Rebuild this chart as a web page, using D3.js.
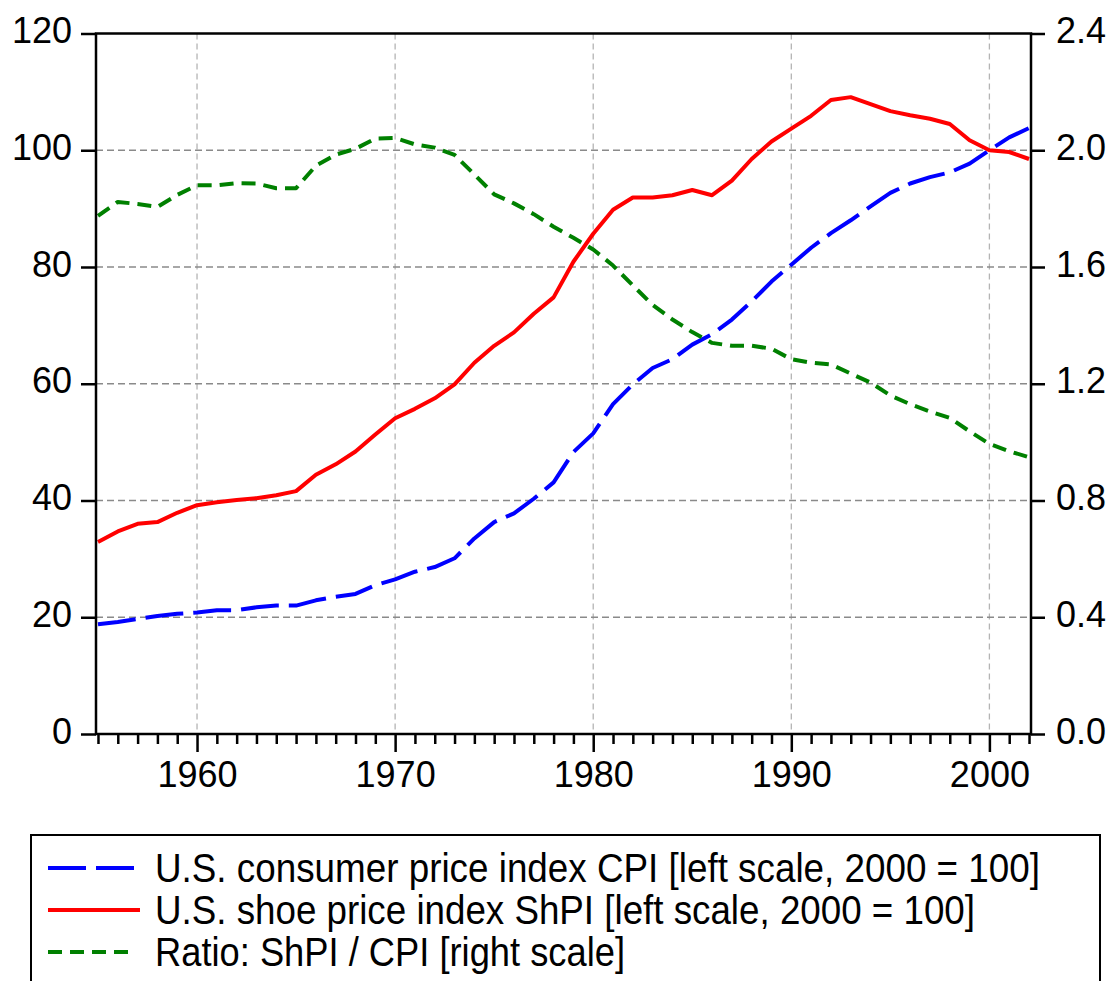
<!DOCTYPE html>
<html>
<head>
<meta charset="utf-8">
<script src="https://cdn.jsdelivr.net/npm/d3@7"></script>
<style>
  body { margin: 0; background: #fff; }
  svg { display: block; font-family: "Liberation Sans", Arial, sans-serif; }
</style>
</head>
<body>
<svg id="chart" width="1113" height="981"></svg>
<script>
// yearly values
const years = [1955, 1956, 1957, 1958, 1959, 1960, 1961, 1962, 1963, 1964, 1965, 1966,
  1967, 1968, 1969, 1970, 1971, 1972, 1973, 1974, 1975, 1976, 1977, 1978, 1979,
  1980, 1981, 1982, 1983, 1984, 1985, 1986, 1987, 1988, 1989, 1990, 1991,
  1992, 1993, 1994, 1995, 1996, 1997, 1998, 1999, 2000, 2001, 2002]

const cpi = [18.8, 19.2, 19.7, 20.2, 20.6, 20.8, 21.2, 21.2, 21.7, 22.0, 22.0, 22.9,
  23.5, 24.0, 25.5, 26.5, 27.8, 28.6, 30.1, 33.5, 36.3, 37.8, 40.3, 43.1, 48.3,
  51.5, 56.5, 59.9, 62.7, 64.2, 66.7, 68.5, 71.0, 74.1, 77.5, 80.4, 83.3,
  85.8, 88.0, 90.4, 92.7, 94.3, 95.4, 96.2, 97.7, 100.0, 102.2, 103.8]

const shpi = [32.9, 34.7, 36.0, 36.3, 37.9, 39.2, 39.7, 40.1, 40.4, 40.9, 41.6, 44.4,
  46.2, 48.4, 51.3, 54.1, 55.7, 57.5, 59.9, 63.6, 66.5, 68.8, 72.0, 74.8, 80.9,
  85.7, 89.8, 91.9, 91.9, 92.3, 93.2, 92.3, 94.8, 98.5, 101.5, 103.7, 105.9,
  108.6, 109.1, 107.9, 106.7, 106.0, 105.4, 104.5, 101.7, 100.0, 99.7, 98.5]

const ratio = [1.775, 1.823, 1.816, 1.806, 1.847, 1.880, 1.880, 1.887, 1.886, 1.870, 1.870, 1.947,
  1.985, 2.005, 2.040, 2.042, 2.020, 2.009, 1.984, 1.917, 1.849, 1.818, 1.781, 1.738, 1.700,
  1.660, 1.605, 1.537, 1.470, 1.420, 1.377, 1.340, 1.330, 1.330, 1.320, 1.284, 1.272,
  1.266, 1.235, 1.204, 1.160, 1.130, 1.105, 1.083, 1.037, 0.994, 0.969, 0.948]

const leftTicks = [0, 20, 40, 60, 80, 100, 120]
const rightTicks = [0, 0.4, 0.8, 1.2, 1.6, 2.0, 2.4]
const decadeTicks = [1960, 1970, 1980, 1990, 2000]

const legendLabels = [
  'U.S. consumer price index CPI [left scale, 2000 = 100]',
  'U.S. shoe price index ShPI [left scale, 2000 = 100]',
  'Ratio: ShPI / CPI [right scale]'
]

const plotLeft = 96
const plotRight = 1031
const plotTop = 33.5
const plotBottom = 734

const svg = d3.select('#chart')

const x = d3.scaleLinear().domain([1954.9, 2002.1]).range([plotLeft, plotRight])
const yL = d3.scaleLinear().domain([0, 120]).range([plotBottom, plotTop])
const yR = d3.scaleLinear().domain([0, 2.4]).range([plotBottom, plotTop])

// grid
svg.append('g')
  .selectAll('line')
  .data(decadeTicks)
  .join('line')
  .attr('x1', d => x(d)).attr('x2', d => x(d))
  .attr('y1', plotTop).attr('y2', plotBottom)
  .attr('stroke', '#b4b4b4')
  .attr('stroke-width', 1.3)
  .attr('stroke-dasharray', '6,4')

svg.append('g')
  .selectAll('line')
  .data(leftTicks.slice(1, -1))
  .join('line')
  .attr('x1', plotLeft).attr('x2', plotRight)
  .attr('y1', d => yL(d)).attr('y2', d => yL(d))
  .attr('stroke', '#8a8a8a')
  .attr('stroke-width', 1.3)
  .attr('stroke-dasharray', '7,4')

// series
const series = [
  { values: cpi, scale: yL, color: '#0000ff', dash: '38,10' },
  { values: shpi, scale: yL, color: '#ff0000', dash: null },
  { values: ratio, scale: yR, color: '#008000', dash: '14,8' }
]

series.forEach(s => {
  const line = d3.line()
    .x((d, i) => x(years[i]))
    .y(d => s.scale(d))
  svg.append('path')
    .datum(s.values)
    .attr('d', line)
    .attr('fill', 'none')
    .attr('stroke', s.color)
    .attr('stroke-width', 4)
    .attr('stroke-linejoin', 'round')
    .attr('stroke-dasharray', s.dash)
})

// frame
svg.append('rect')
  .attr('x', plotLeft).attr('y', plotTop)
  .attr('width', plotRight - plotLeft).attr('height', plotBottom - plotTop)
  .attr('fill', 'none')
  .attr('stroke', '#000')
  .attr('stroke-width', 2.5)

// axes
const axisL = svg.append('g')
  .attr('transform', `translate(${plotLeft},0)`)
  .call(d3.axisLeft(yL).tickValues(leftTicks).tickSize(15).tickPadding(9))
const axisR = svg.append('g')
  .attr('transform', `translate(${plotRight},0)`)
  .call(d3.axisRight(yR).tickValues(rightTicks).tickFormat(d3.format('.1f')).tickSize(14).tickPadding(11))
const axisB = svg.append('g')
  .attr('transform', `translate(0,${plotBottom})`)
  .call(d3.axisBottom(x).tickValues(years).tickSize(10)
    .tickFormat(d => d % 10 === 0 ? d : ''))

;[axisL, axisR, axisB].forEach(a => {
  a.select('.domain').remove()
  a.selectAll('line').attr('stroke', '#000').attr('stroke-width', 2.5)
  a.selectAll('text')
    .attr('fill', '#000')
    .style('font-size', '36px')
    .style('font-family', '"Liberation Sans", Arial, sans-serif')
})
axisL.selectAll('text').attr('dy', '0.25em')
axisR.selectAll('text').attr('dy', '0.25em')
axisB.selectAll('.tick')
  .filter(d => d % 10 === 0)
  .select('line')
  .attr('y2', 18)
axisB.selectAll('text').attr('y', 27)

// legend
const legend = svg.append('g')
legend.append('rect')
  .attr('x', 31).attr('y', 835)
  .attr('width', 1069).attr('height', 170)
  .attr('fill', '#fff')
  .attr('stroke', '#000')
  .attr('stroke-width', 2)

const legendWidths = [885, 820, 470]
legend.selectAll('line')
  .data(series)
  .join('line')
  .attr('x1', 48).attr('x2', (d, i) => i === 2 ? 132 : 140)
  .attr('y1', (d, i) => 868 + i * 42).attr('y2', (d, i) => 868 + i * 42)
  .attr('stroke', d => d.color)
  .attr('stroke-width', 4)
  .attr('stroke-dasharray', d => d.dash)

legend.selectAll('text')
  .data(legendLabels)
  .join('text')
  .attr('x', 155)
  .attr('y', (d, i) => 882 + i * 42)
  .attr('textLength', (d, i) => legendWidths[i])
  .attr('lengthAdjust', 'spacingAndGlyphs')
  .style('font-size', '41px')
  .text(d => d)
</script>
</body>
</html>
